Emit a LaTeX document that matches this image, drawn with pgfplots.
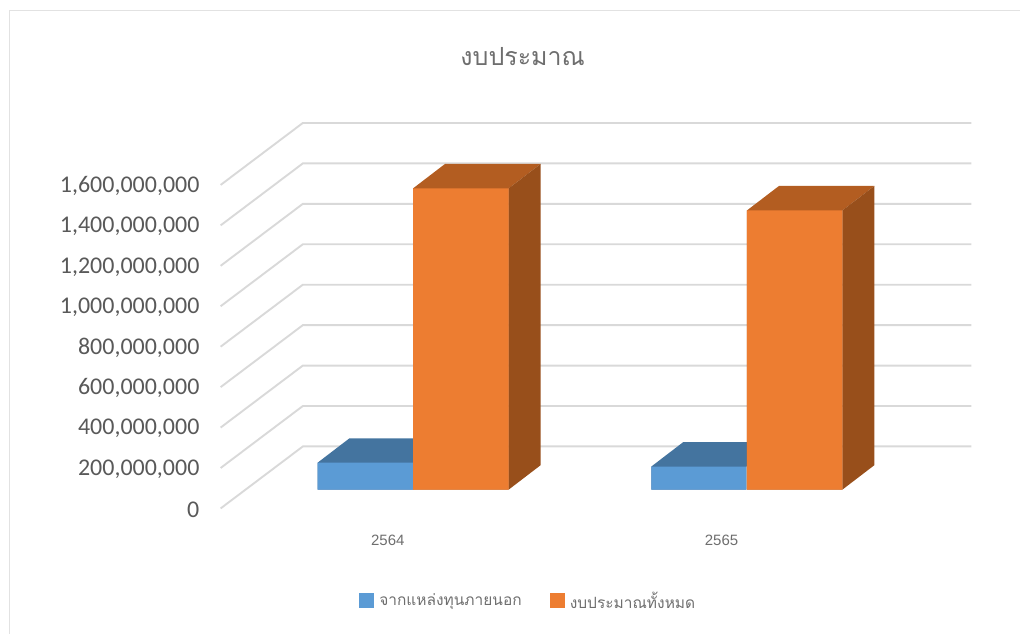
\documentclass[border=0pt]{standalone}
\usepackage{pgfplots}
\pgfplotsset{compat=1.18}
\usepackage{fontspec}
\setmainfont{Carlito}
\newfontfamily\thaifont[Script=Thai]{Loma}
\newfontfamily\catfont{Liberation Sans}
\definecolor{gridc}{HTML}{D9D9D9}
\definecolor{framec}{HTML}{E2E2E2}
\definecolor{bluef}{HTML}{5B9BD5}
\definecolor{bluet}{HTML}{44749F}
\definecolor{orf}{HTML}{ED7D31}
\definecolor{ort}{HTML}{B35D21}
\definecolor{ors}{HTML}{984F1B}
\definecolor{txt}{HTML}{595959}
\definecolor{txtl}{HTML}{6E6E6E}
\pgfplotsset{
  face/.style={draw=none,fill=#1,forget plot},
  gl/.style={gridc,line width=1.9pt,forget plot,mark=none},
  fr/.style={framec,line width=1.5pt,forget plot,mark=none}
}
\begin{document}
\begin{tikzpicture}
\begin{axis}[
  scale only axis,
  width=1021pt,height=634pt,
  xmin=0,xmax=1021,
  ymin=-712000000,ymax=2421300000,
  axis line style={draw=none},
  major tick length=0pt,
  clip=false,
  scaled y ticks=false,
  ytick={0,200000000,400000000,600000000,800000000,1000000000,1200000000,1400000000,1600000000},
  yticklabels={0,{200,000,000},{400,000,000},{600,000,000},{800,000,000},{1,000,000,000},{1,200,000,000},{1,400,000,000},{1,600,000,000}},
  yticklabel style={font=\fontsize{24}{25}\selectfont,text=txt,anchor=east,xshift=203pt,yshift=-20pt},
  xtick={388,722},
  xticklabels={2564,2565},
  xticklabel style={font=\catfont\fontsize{15}{16}\selectfont,text=txtl,anchor=center,yshift=93pt},
  title={\thaifont\fontsize{25}{28}\selectfont งบประมาณ},
  title style={text=txtl,at={(523/1021,1)},anchor=center,yshift=-62pt},
  legend style={draw=none,fill=none,at={(528.5/1021,33/634)},anchor=center,
    font=\thaifont\fontsize{15.5}{18}\selectfont,text=txtl,/tikz/every even column/.append style={column sep=26pt}},
  legend columns=2,
  legend image code/.code={\fill[#1] (0pt,-7pt) rectangle (14pt,7pt);\path[draw=none] (0pt,0pt) -- (18pt,0pt);},
]
% gridlines (side wall and back wall)
\addplot[gl] coordinates {(220.7,-93000000)(303,213600000)(972,213600000)};
\addplot[gl] coordinates {(220.7,107000000)(303,413600000)(972,413600000)};
\addplot[gl] coordinates {(220.7,307000000)(303,613600000)(972,613600000)};
\addplot[gl] coordinates {(220.7,507000000)(303,813600000)(972,813600000)};
\addplot[gl] coordinates {(220.7,707000000)(303,1013600000)(972,1013600000)};
\addplot[gl] coordinates {(220.7,907000000)(303,1213600000)(972,1213600000)};
\addplot[gl] coordinates {(220.7,1107000000)(303,1413600000)(972,1413600000)};
\addplot[gl] coordinates {(220.7,1307000000)(303,1613600000)(972,1613600000)};
\addplot[gl] coordinates {(220.7,1507000000)(303,1813600000)(972,1813600000)};
% frame
\addplot[fr] coordinates {(9.5,-712000000)(9.5,2369000000)(1021,2369000000)};
% 2564 blue
\addplot[face=bluet] coordinates {(317.7,133000000)(349.7,254000000)(445.3,254000000)(413.3,133000000)} \closedcycle;
\addplot[face=bluef] coordinates {(317.7,0)(317.7,133000000)(413.3,133000000)(413.3,0)} \closedcycle;
% 2564 orange
\addplot[face=ort] coordinates {(413.3,1490000000)(445.3,1611000000)(541,1611000000)(509,1490000000)} \closedcycle;
\addplot[face=ors] coordinates {(509,0)(541,121000000)(541,1611000000)(509,1490000000)} \closedcycle;
\addplot[face=orf] coordinates {(413.3,0)(413.3,1490000000)(509,1490000000)(509,0)} \closedcycle;
% 2565 blue
\addplot[face=bluet] coordinates {(651.7,114000000)(683.7,235000000)(779,235000000)(747,114000000)} \closedcycle;
\addplot[face=bluef] coordinates {(651.7,0)(651.7,114000000)(747,114000000)(747,0)} \closedcycle;
% 2565 orange
\addplot[face=ort] coordinates {(747.5,1381000000)(779.5,1502000000)(875,1502000000)(843,1381000000)} \closedcycle;
\addplot[face=ors] coordinates {(843,0)(875,121000000)(875,1502000000)(843,1381000000)} \closedcycle;
\addplot[face=orf] coordinates {(747.5,0)(747.5,1381000000)(843,1381000000)(843,0)} \closedcycle;
\addlegendimage{bluef}
\addlegendentry{จากแหล่งทุนภายนอก}
\addlegendimage{orf}
\addlegendentry{งบประมาณทั้งหมด}
\end{axis}
\end{tikzpicture}
\end{document}
